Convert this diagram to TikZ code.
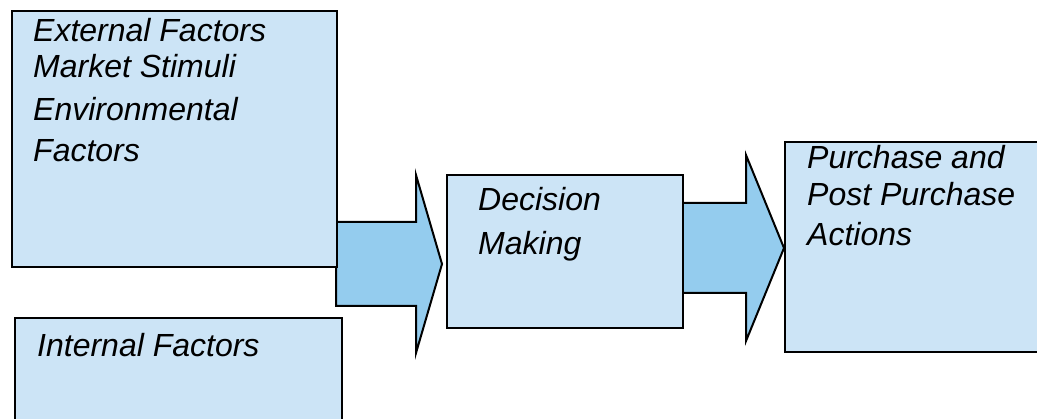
\documentclass[tikz,border=0pt]{standalone}
\usepackage{fontspec}
\setmainfont{Liberation Sans}
\definecolor{boxblue}{RGB}{204,228,246}
\definecolor{arrowblue}{RGB}{148,204,238}
\tikzset{
  stage/.style={draw, line width=2.4pt, fill=boxblue, anchor=north west, inner sep=0pt},
  flow/.style={draw, line width=2pt, fill=arrowblue, line join=miter},
  caption/.style={anchor=base west, inner sep=0pt, font=\fontsize{32pt}{38pt}\selectfont\itshape}
}
\begin{document}
\begin{tikzpicture}[x=1pt, y=-1pt]
    \useasboundingbox (0,0) rectangle (1037,419);

    % Draw the block arrows
    \coordinate (flowA) at (336,264);
    \coordinate (flowB) at (682,248);
    \draw[flow] (flowA) ++(0,-42) -- ++(80,0) -- ++(0,-47) -- ++(26,89) -- ++(-26,89) -- ++(0,-47) -- ++(-80,0) -- cycle;
    \draw[flow] (flowB) ++(0,-45) -- ++(64,0) -- ++(0,-48) -- ++(38,93) -- ++(-38,93) -- ++(0,-48) -- ++(-64,0) -- cycle;

    % Draw the boxes
    \node[stage, minimum width=325pt, minimum height=256pt] (external) at (11,10) {};
    \node[stage, minimum width=327pt, minimum height=140pt] (internal) at (14,317) {};
    \node[stage, minimum width=236pt, minimum height=153pt] (decision) at (446,174) {};
    \node[stage, minimum width=320pt, minimum height=210pt] (purchase) at (784,141) {};

    % Box texts
    \node[caption] (ext1) at (33,42) {External Factors};
    \node[caption] (ext2) at (33,78) {Market Stimuli};
    \node[caption] (ext3) at (33,121) {Environmental};
    \node[caption] (ext4) at (33,162) {Factors};
    \node[caption] (int1) at (37,357) {Internal Factors};
    \node[caption] (dec1) at (478,211) {Decision};
    \node[caption] (dec2) at (478,255) {Making};
    \node[caption] (pur1) at (807,169) {Purchase and};
    \node[caption] (pur2) at (807,206) {Post Purchase};
    \node[caption] (pur3) at (807,246) {Actions};

\end{tikzpicture}
\end{document}
